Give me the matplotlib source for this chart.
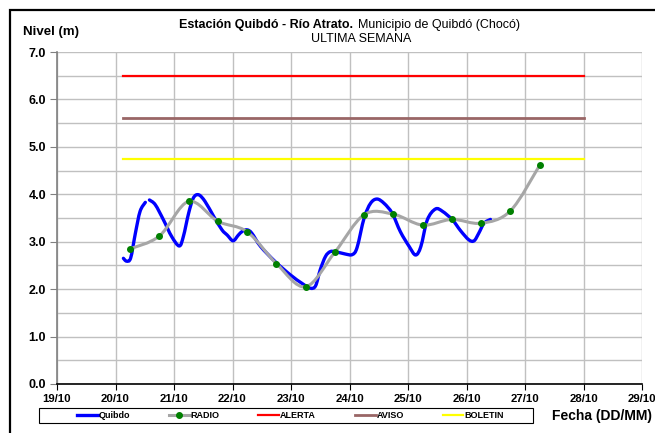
import numpy as np
import matplotlib.pyplot as plt
from matplotlib.path import Path
from matplotlib.patches import PathPatch, Rectangle
from matplotlib.lines import Line2D
from matplotlib.ticker import MultipleLocator

plt.rcParams['font.family'] = ['Liberation Sans', 'DejaVu Sans']

# eje x en dias contados desde el 19/10 00:00
fechas = ['19/10', '20/10', '21/10', '22/10', '23/10', '24/10',
          '25/10', '26/10', '27/10', '28/10', '29/10']

# Quibdo (sensor), dos tramos porque falta un dato el 20/10
quibdo_t1 = [1.135, 1.19, 1.26, 1.34, 1.42, 1.51]
quibdo_h1 = [2.65, 2.59, 2.66, 3.18, 3.64, 3.83]
quibdo_t2 = [1.58, 1.68, 1.82, 1.96, 2.09, 2.16, 2.25, 2.33, 2.42, 2.53,
             2.68, 2.82, 2.91, 3.01, 3.10, 3.17, 3.25, 3.33, 3.48, 3.73,
             3.99, 4.19, 4.33, 4.42, 4.50, 4.59, 4.67, 4.76, 4.93, 5.05,
             5.13, 5.25, 5.36, 5.47, 5.59, 5.73, 5.87, 6.02, 6.13, 6.22,
             6.33, 6.47, 6.59, 6.76, 6.90, 7.04, 7.13, 7.21, 7.30, 7.41]
quibdo_h2 = [3.88, 3.78, 3.46, 3.11, 2.91, 3.11, 3.60, 3.92, 3.99, 3.85,
             3.53, 3.25, 3.14, 3.02, 3.14, 3.22, 3.25, 3.18, 2.90, 2.58,
             2.30, 2.12, 2.02, 2.07, 2.41, 2.69, 2.79, 2.79, 2.74, 2.73,
             2.88, 3.50, 3.81, 3.90, 3.81, 3.60, 3.21, 2.90, 2.72, 2.90,
             3.46, 3.69, 3.64, 3.46, 3.23, 3.04, 3.02, 3.18, 3.39, 3.47]

# lecturas por radio (6 am y 6 pm)
radio_t = [1.25, 1.75, 2.25, 2.75, 3.25, 3.75, 4.25, 4.75,
           5.25, 5.75, 6.25, 6.75, 7.25, 7.75, 8.25]
radio_h = [2.85, 3.12, 3.85, 3.43, 3.21, 2.54, 2.05, 2.78,
           3.57, 3.58, 3.35, 3.47, 3.39, 3.65, 4.61]

# umbrales
umbral_t = [1.125, 9.0]
alerta = 6.5
aviso = 5.6
boletin = 4.75

c_quibdo = '#0000ff'
c_radio = '#a6a6a6'
c_punto = '#008000'
c_alerta = '#ff0000'
c_aviso = '#996666'
c_boletin = '#ffff00'


def curva_suave(t, h):
    # linea suavizada tipo Excel (Catmull-Rom con curvas de Bezier)
    p = np.column_stack([t, h])
    p = np.vstack([p[0], p, p[-1]])
    verts = [p[1]]
    codes = [Path.MOVETO]
    for i in range(1, len(p) - 2):
        c1 = p[i] + (p[i + 1] - p[i - 1]) / 6.0
        c2 = p[i + 1] - (p[i + 2] - p[i]) / 6.0
        verts += [c1, c2, p[i + 1]]
        codes += [Path.CURVE4] * 3
    return Path(verts, codes)


fig = plt.figure(figsize=(6.55, 4.33), dpi=100)
ax = fig.add_axes([57 / 655, 1 - 384 / 433, 585 / 655, 332 / 433])

for t, h in [(quibdo_t1, quibdo_h1), (quibdo_t2, quibdo_h2)]:
    ax.add_patch(PathPatch(curva_suave(t, h), fill=False, edgecolor=c_quibdo,
                           lw=2.4, capstyle='round', joinstyle='round', zorder=3))

ax.add_patch(PathPatch(curva_suave(radio_t, radio_h), fill=False, edgecolor=c_radio,
                       lw=2.2, capstyle='round', joinstyle='round', zorder=4))
ax.plot(radio_t, radio_h, 'o', color=c_punto, ms=4, mec=c_punto, zorder=6)

ax.plot(umbral_t, [alerta, alerta], color=c_alerta, lw=1.6, zorder=5)
ax.plot(umbral_t, [aviso, aviso], color=c_aviso, lw=2.0, zorder=5)
ax.plot(umbral_t, [boletin, boletin], color=c_boletin, lw=1.6, zorder=5)

ax.set_xlim(0, 10)
ax.set_ylim(0, 7)
ax.set_xticks(np.arange(len(fechas)))
ax.set_xticklabels(fechas, fontsize=8.2, fontweight='bold')
ax.yaxis.set_major_locator(MultipleLocator(1))
ax.yaxis.set_minor_locator(MultipleLocator(0.5))
ax.set_yticks(np.arange(0, 8))
ax.set_yticklabels(['%.1f' % v for v in range(8)], fontsize=9, fontweight='bold')
ax.tick_params(axis='x', which='major', direction='out', length=4, pad=3, color='black')
ax.tick_params(axis='y', which='major', direction='out', length=5, pad=3, color='#808080')
ax.tick_params(axis='y', which='minor', length=0)

ax.grid(True, which='major', axis='x', color='#c0c0c0', lw=1)
ax.grid(True, which='both', axis='y', color='#c0c0c0', lw=1)
ax.set_axisbelow(True)
for s in ['top', 'right']:
    ax.spines[s].set_visible(False)
ax.spines['left'].set_color('#808080')
ax.spines['left'].set_linewidth(1.2)
ax.spines['bottom'].set_color('black')
ax.spines['bottom'].set_linewidth(1.2)

# titulos
fig.text(353 / 655, 1 - 25 / 433, 'Estación Quibdó - Río Atrato.', ha='right',
         va='center', fontsize=9, fontweight='bold')
fig.text(358 / 655, 1 - 25 / 433, 'Municipio de Quibdó (Chocó)', ha='left',
         va='center', fontsize=9)
fig.text(361 / 655, 1 - 39 / 433, 'ULTIMA SEMANA', ha='center', va='center', fontsize=9)
fig.text(23 / 655, 1 - 32 / 433, 'Nivel (m)', ha='left', va='center',
         fontsize=9.5, fontweight='bold')
fig.text(652 / 655, 1 - 416 / 433, 'Fecha (DD/MM)', ha='right', va='center',
         fontsize=10, fontweight='bold')

# leyenda (marco aparte para dejar margen a los lados)
handles = [
    Line2D([], [], color=c_quibdo, lw=2.4),
    Line2D([], [], color=c_radio, lw=2.2, marker='o', ms=4, mfc=c_punto, mec=c_punto),
    Line2D([], [], color=c_alerta, lw=1.6),
    Line2D([], [], color=c_aviso, lw=2.0),
    Line2D([], [], color=c_boletin, lw=1.6),
]
labels = ['Quibdo', 'RADIO', 'ALERTA', 'AVISO', 'BOLETIN']
fig.legend(handles, labels, loc='center left',
           bbox_to_anchor=(77 / 655, 1 - 415.5 / 433),
           ncol=5, frameon=False, prop={'size': 6.5, 'weight': 'bold'},
           handlelength=2.3, handletextpad=0.1, columnspacing=4.3,
           borderpad=0, borderaxespad=0)
fig.patches.append(Rectangle((39 / 655, 1 - 423 / 433), 494 / 655, 15 / 433,
                             transform=fig.transFigure, fill=False,
                             edgecolor='black', lw=0.8))

# marco exterior
fig.patches.append(Rectangle((10 / 655, -0.2), 2, 1 - 10 / 433 + 0.2,
                             transform=fig.transFigure, fill=False,
                             edgecolor='black', lw=1.6))

fig.savefig('out.png', dpi=100)
